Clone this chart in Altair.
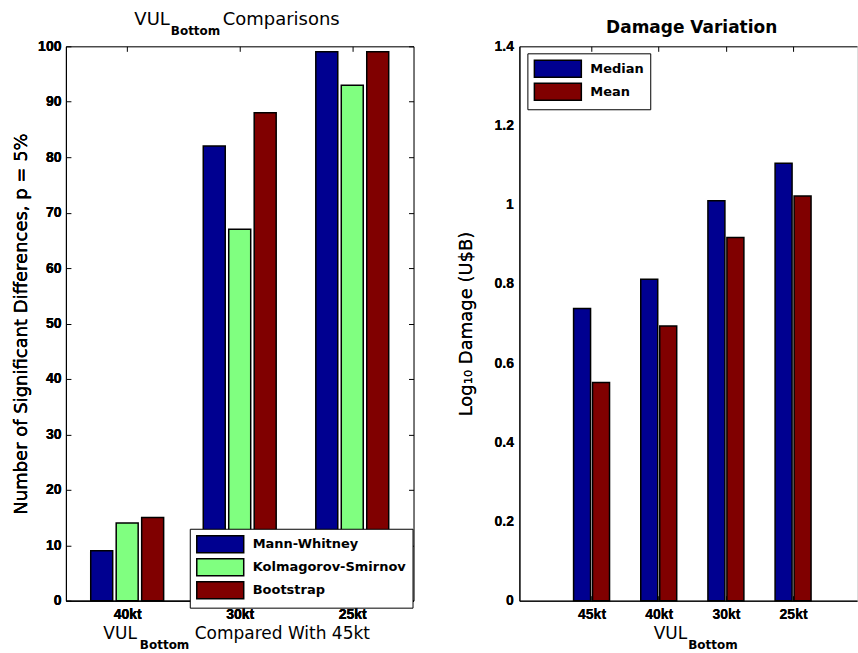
import json
import altair as alt
import pandas as pd

# ---------------- data ----------------
cats_left = ["40kt", "30kt", "25kt"]
tests = ["Mann-Whitney", "Kolmagorov-Smirnov", "Bootstrap"]
mann_whitney = [9, 82, 99]
kolmogorov_smirnov = [14, 67, 93]
bootstrap = [15, 88, 99]

cats_right = ["45kt", "40kt", "30kt", "25kt"]
stats = ["Median", "Mean"]
median_dmg = [0.738, 0.812, 1.01, 1.105]
mean_dmg = [0.551, 0.694, 0.917, 1.022]

left_ticks = [0, 10, 20, 30, 40, 50, 60, 70, 80, 90, 100]
right_ticks = [0, 0.2, 0.4, 0.6, 0.8, 1.0, 1.2, 1.4]

col_left = ["#000090", "#80FF80", "#800000"]
col_right = ["#000090", "#800000"]

left_rows = []
for name, vals in zip(tests, [mann_whitney, kolmogorov_smirnov, bootstrap]):
    for i, (c, v) in enumerate(zip(cats_left, vals)):
        left_rows.append({"idx": i + 1, "cat": c, "test": name, "value": v})
left_df = pd.DataFrame(left_rows)

right_rows = []
for name, vals in zip(stats, [median_dmg, mean_dmg]):
    for i, (c, v) in enumerate(zip(cats_right, vals)):
        right_rows.append({"idx": i + 1, "cat": c, "stat": name, "value": v})
right_df = pd.DataFrame(right_rows)

one = pd.DataFrame({"k": [1]})

# ---------------- layout constants ----------------
WL, H = 348, 555
WR = 338
STEP_R = 69.3
TICK_FONT = "Liberation Sans"
TXT_FONT = "DejaVu Sans"
# swatch 17px tall, ~47px wide, starting at the normal symbol left edge
SWATCH = "M-1,-1L4.53,-1L4.53,1L-1,1Z"


def idx_labels(cats):
    return json.dumps([""] + cats) + "[datum.value] || ''"


def lab_axis(orient, title=None, values=None, fmt=None, label_pad=6,
             title_pad=10, label_expr=None):
    kw = dict(orient=orient, ticks=False, domain=True, domainColor="black",
              domainWidth=1, labelFont=TICK_FONT, labelFontSize=14,
              labelFontWeight="bold", labelColor="black", labelPadding=label_pad,
              grid=False, labelAngle=0, labelFlush=False, labelOverlap=False)
    if values is not None:
        kw["values"] = values
    if fmt is not None:
        kw["format"] = fmt
    if label_expr is not None:
        kw["labelExpr"] = label_expr
    if title is not None:
        kw.update(title=title, titleFont=TXT_FONT, titleFontSize=18,
                  titleFontWeight="normal", titleColor="black",
                  titlePadding=title_pad, titleBaseline="alphabetic")
    else:
        kw["title"] = None
    return alt.Axis(**kw)


def tick_axis(orient, offset, values, domain=False):
    return alt.Axis(orient=orient, offset=offset, labels=False, domain=domain,
                    domainColor="black", domainWidth=1, ticks=True, tickSize=5,
                    tickColor="black", tickWidth=1, title=None, grid=False,
                    values=values)


def text_layer(txt, x, y, size, weight="normal", align="left"):
    return alt.Chart(one).mark_text(
        text=txt, font=TXT_FONT, fontSize=size, fontWeight=weight,
        align=align, baseline="alphabetic", color="black"
    ).encode(x=alt.value(x), y=alt.value(y))


def legend(x, y, pad):
    return alt.Legend(orient="none", legendX=x, legendY=y, title=None,
                      symbolType=SWATCH, symbolSize=289,
                      symbolStrokeColor="black", symbolStrokeWidth=1.5,
                      symbolOpacity=1,
                      labelFont=TXT_FONT, labelFontSize=13,
                      labelFontWeight="bold", labelColor="black",
                      labelOffset=38, rowPadding=0, padding=pad,
                      strokeColor="black", fillColor="white", cornerRadius=0)


# ---------------- left panel ----------------
xl_scale = alt.Scale(domain=[0.5, 3.5], nice=False, zero=False)
yl_scale = alt.Scale(domain=[0, 100], nice=False)
left_idx = list(range(1, len(cats_left) + 1))

left_color = alt.Color("test:N", sort=tests,
                       scale=alt.Scale(domain=tests, range=col_left),
                       legend=legend(124, 483, 6))

left_bar_layers = []
for k, name in enumerate(tests):
    enc = dict(
        x=alt.X("idx:Q", scale=xl_scale,
                axis=lab_axis("bottom", values=left_idx, label_pad=7,
                              label_expr=idx_labels(cats_left))),
        y=alt.Y("value:Q", scale=yl_scale,
                axis=lab_axis("left", title="Number of Significant Differences, p = 5%",
                              values=left_ticks, fmt="d", label_pad=5, title_pad=11)),
        color=left_color,
    )
    left_bar_layers.append(
        alt.Chart(left_df).transform_filter(alt.datum.test == name)
        .mark_bar(width=22, xOffset=(k - 1) * 25.5, stroke="black", strokeWidth=1.5)
        .encode(**enc)
    )

left_ticks_a = alt.Chart(left_df).mark_point(opacity=0).encode(
    x=alt.X("idx:Q", axis=tick_axis("top", -H, left_idx)),
    y=alt.Y("value:Q", axis=tick_axis("right", -WL, left_ticks)),
)
left_ticks_b = alt.Chart(left_df).mark_point(opacity=0).encode(
    x=alt.X("idx:Q", axis=tick_axis("bottom", -H, left_idx, domain=True)),
    y=alt.Y("value:Q", axis=tick_axis("left", -WL, left_ticks, domain=True)),
)

left = alt.layer(
    *left_bar_layers, left_ticks_a, left_ticks_b,
    text_layer("VUL", 104, -21, 18, align="right"),
    text_layer("Bottom", 105, -11, 12, weight="bold"),
    text_layer("Comparisons", 157, -21, 18),
    text_layer("VUL", 71, H + 38, 17, align="right"),
    text_layer("Bottom", 74, H + 48, 12, weight="bold"),
    text_layer("Compared With 45kt", 129, H + 38, 17),
).resolve_axis(x="independent", y="independent").properties(width=WL, height=H)

# ---------------- right panel ----------------
xr_scale = alt.Scale(domain=[0, WR / STEP_R], nice=False, zero=False)
yr_scale = alt.Scale(domain=[0, 1.4], nice=False)
right_idx = list(range(1, len(cats_right) + 1))

right_color = alt.Color("stat:N", sort=stats,
                        scale=alt.Scale(domain=stats, range=col_right),
                        legend=legend(8, 7, 6))

right_bar_layers = []
for k, name in enumerate(stats):
    enc = dict(
        x=alt.X("idx:Q", scale=xr_scale,
                axis=lab_axis("bottom", values=right_idx, label_pad=7,
                              label_expr=idx_labels(cats_right))),
        y=alt.Y("value:Q", scale=yr_scale,
                axis=lab_axis("left", title="Log₁₀ Damage (U$B)", values=right_ticks,
                              fmt="~g", label_pad=6, title_pad=22)),
        color=right_color,
    )
    right_bar_layers.append(
        alt.Chart(right_df).transform_filter(alt.datum.stat == name)
        .mark_bar(width=17, xOffset=(k - 0.5) * 19, stroke="black", strokeWidth=1.5)
        .encode(**enc)
    )

right_ticks_a = alt.Chart(right_df).mark_point(opacity=0).encode(
    x=alt.X("idx:Q", axis=tick_axis("top", -H, right_idx)),
    y=alt.Y("value:Q", axis=None),
)
right_ticks_b = alt.Chart(right_df).mark_point(opacity=0).encode(
    x=alt.X("idx:Q", axis=tick_axis("bottom", -H, right_idx, domain=True)),
    y=alt.Y("value:Q", axis=None),
)

right = alt.layer(
    *right_bar_layers, right_ticks_a, right_ticks_b,
    text_layer("Damage Variation", 172.5, -13, 17, weight="bold", align="center"),
    text_layer("VUL", 168, H + 38, 17, align="right"),
    text_layer("Bottom", 169, H + 48, 12, weight="bold"),
).resolve_axis(x="independent", y="independent").properties(width=WR, height=H)

chart = alt.hconcat(left, right, spacing=106, bounds="flush").resolve_scale(
    color="independent"
).properties(
    padding={"left": 12, "top": 10, "right": 0, "bottom": 0},
    background="white",
).configure_view(stroke=None).configure(font=TXT_FONT)

chart.save("out.html", embed_options={"renderer": "svg", "actions": False})
